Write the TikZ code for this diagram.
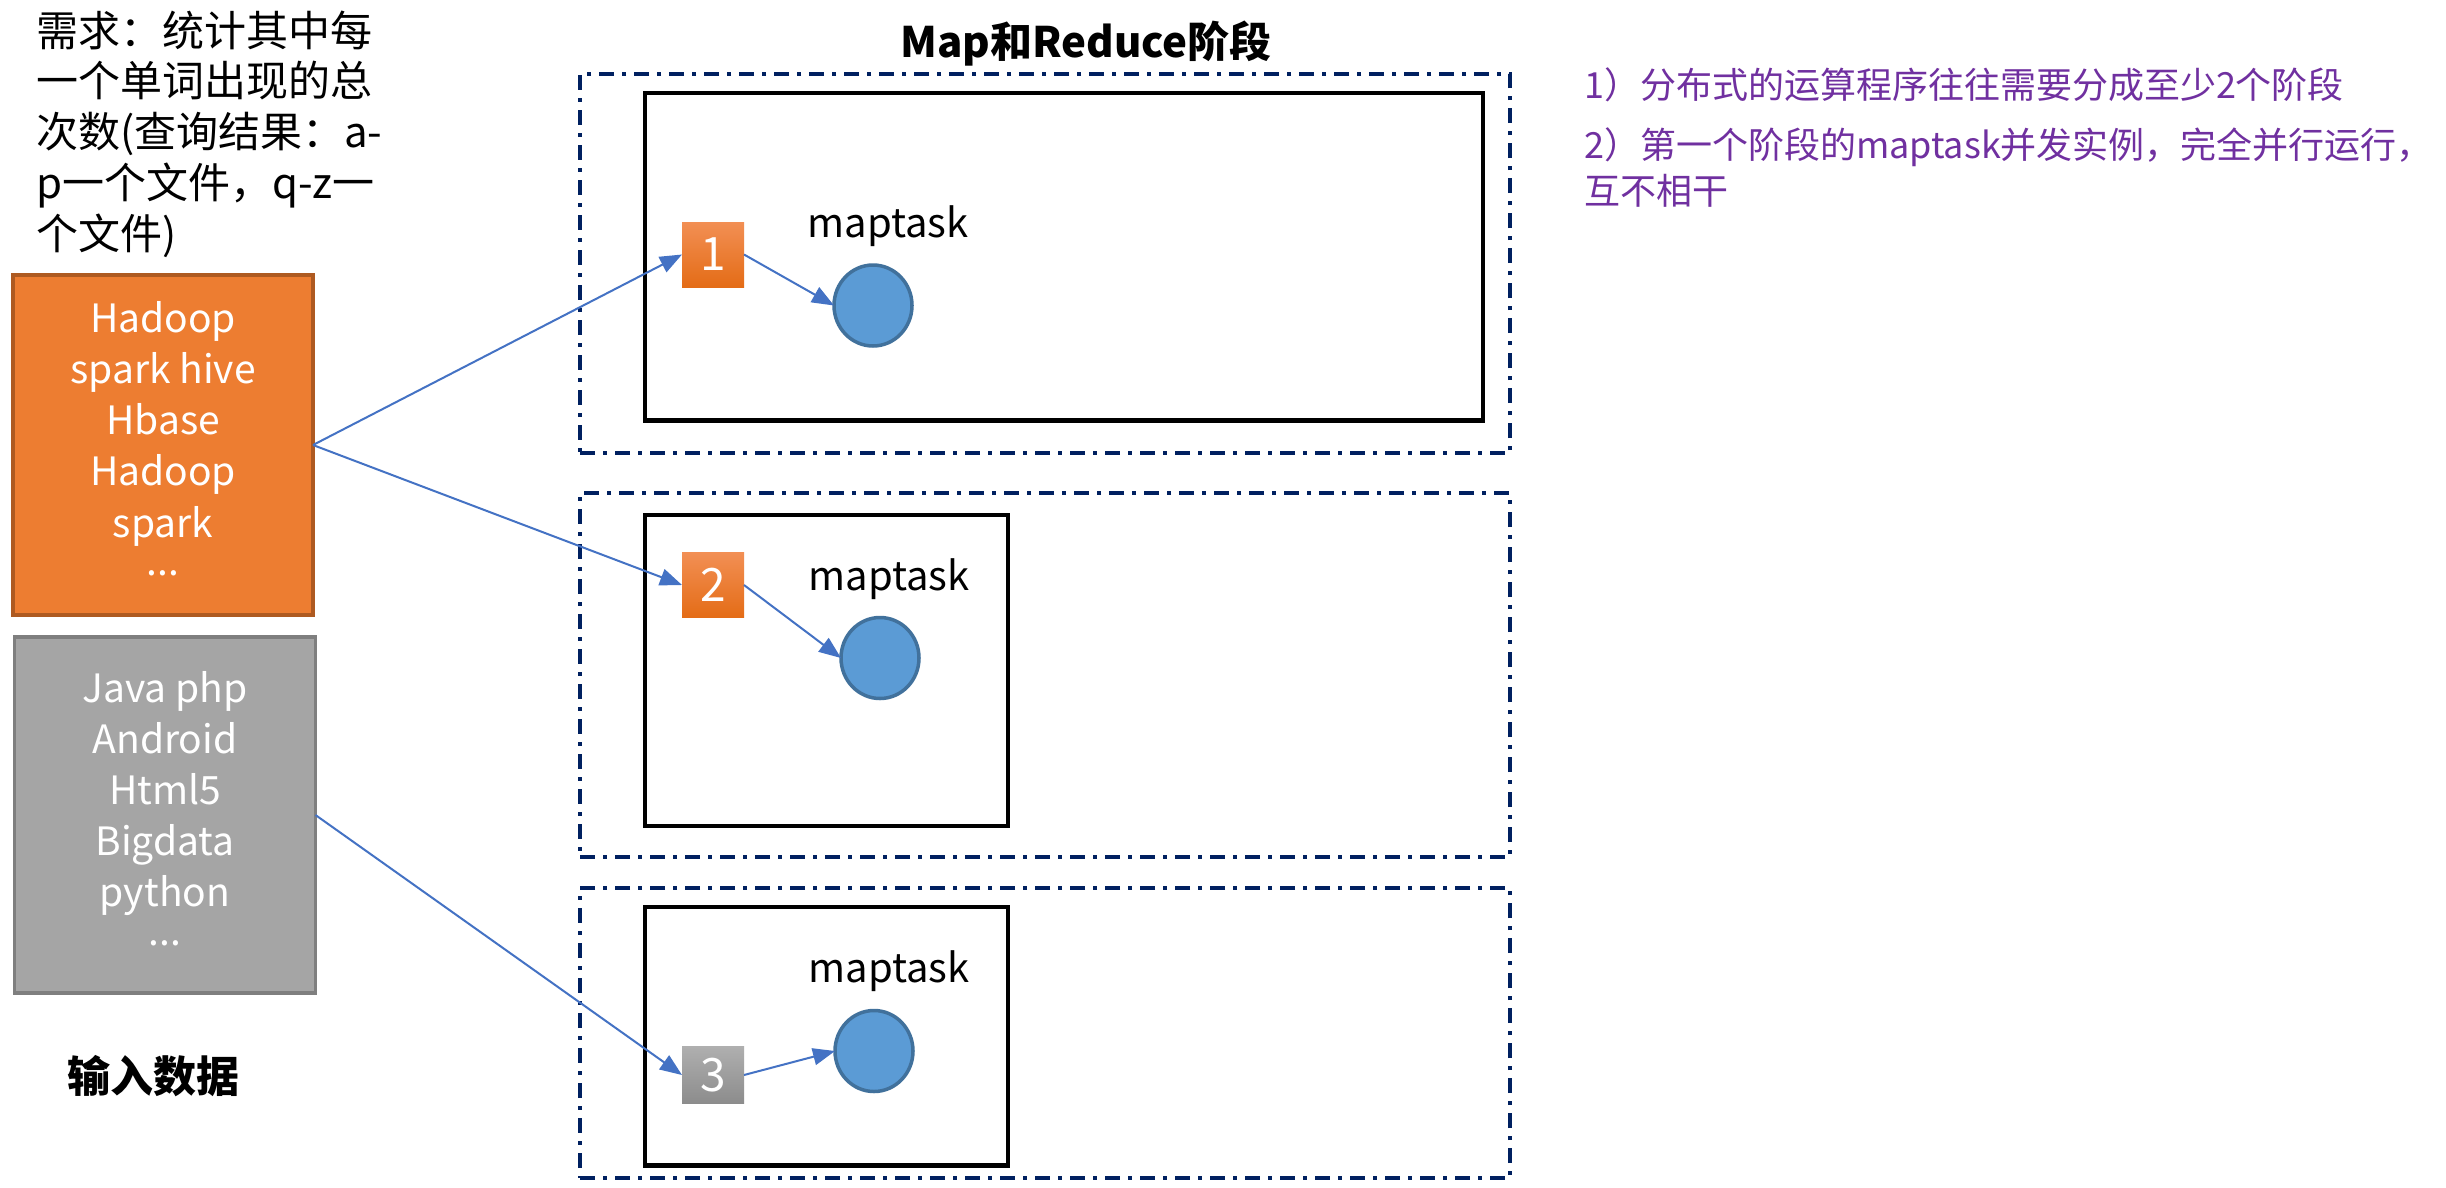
\documentclass[tikz,border=0pt]{standalone}
\usepackage{fontspec}
\setmainfont{Noto Sans CJK SC}
\usetikzlibrary{arrows.meta,shapes.geometric}

\definecolor{orangeF}{RGB}{237,125,49}
\definecolor{orangeD}{RGB}{174,90,33}
\definecolor{grayF}{RGB}{165,165,165}
\definecolor{grayD}{RGB}{127,127,127}
\definecolor{navy}{RGB}{0,32,96}
\definecolor{arrowblue}{RGB}{68,114,196}
\definecolor{circF}{RGB}{91,155,213}
\definecolor{circD}{RGB}{65,113,156}
\definecolor{purp}{RGB}{112,48,160}
\definecolor{sqOtop}{RGB}{242,143,84}
\definecolor{sqObot}{RGB}{228,108,22}
\definecolor{sqGtop}{RGB}{175,175,175}
\definecolor{sqGbot}{RGB}{140,140,140}

\begin{document}
\begin{tikzpicture}[x=1pt,y=-1pt,
  every node/.style={inner sep=0pt, outer sep=0pt},
  req/.style={anchor=base west, font=\fontsize{42}{51}\selectfont},
  inbox/.style={anchor=base, text=white, font=\fontsize{39}{51}\selectfont},
  phase/.style={draw=navy, line width=4pt, dash pattern=on 15pt off 8pt on 4pt off 8pt},
  taskbox/.style={draw=black, line width=4.5pt},
  sqbase/.style={minimum width=62pt, text=white, font=\fontsize{46}{50}\selectfont},
  sqorange/.style={sqbase, top color=sqOtop, bottom color=sqObot, minimum height=65pt},
  sqgray/.style={sqbase, top color=sqGtop, bottom color=sqGbot, minimum height=57pt},
  mtask/.style={ellipse, fill=circF, draw=circD, line width=3.5pt, minimum width=78pt, minimum height=81pt},
  mlabel/.style={anchor=base, font=\fontsize{40}{48}\selectfont},
  link/.style={draw=arrowblue, line width=2pt, -{Triangle[length=22pt,width=17pt]}},
  note/.style={anchor=base west, text=purp, font=\fontsize{36}{45}\selectfont},
  heading/.style={anchor=base, font=\fontsize{42}{50}\selectfont\bfseries}]

\fill[white] (0,0) rectangle (2446,1187);
\useasboundingbox (0,0) rectangle (2446,1187);

% requirement text
\node[req] (q1) at (36,46) {需求：统计其中每};
\node[req] (q2) at (36,96.75) {一个单词出现的总};
\node[req] (q3) at (36,147.5) {次数(查询结果：a-};
\node[req] (q4) at (36,198.25) {p一个文件，q-z一};
\node[req] (q5) at (36,249) {个文件)};

% stage containers
\node[phase, minimum width=930pt, minimum height=379pt] (stage1) at (1045,263.5) {};
\node[phase, minimum width=930pt, minimum height=364pt] (stage2) at (1045,675) {};
\node[phase, minimum width=930pt, minimum height=290pt] (stage3) at (1045,1033) {};

\node[taskbox, minimum width=838pt, minimum height=327.5pt] (task1) at (1064,256.75) {};
\node[taskbox, minimum width=363pt, minimum height=311pt] (task2) at (826.5,670.5) {};
\node[taskbox, minimum width=363pt, minimum height=258.5pt] (task3) at (826.5,1036.25) {};

\node[heading] (title) at (1086,57) {Map和Reduce阶段};

% input files
\node[draw=orangeD, fill=orangeF, line width=3.5pt, minimum width=300pt, minimum height=340pt] (orangebox) at (163,445) {};
\node[draw=grayD, fill=grayF, line width=3.5pt, minimum width=301pt, minimum height=356pt] (graybox) at (165,815) {};

\foreach \t [count=\i] in {Hadoop, spark hive, Hbase, Hadoop, spark}
  \node[inbox] (o\i) at (163,{332+51.25*(\i-1)}) {\t};
\node[inbox] (o6) at (163,575) {...};

\foreach \t [count=\i] in {Java php, Android, Html5, Bigdata, python}
  \node[inbox] (g\i) at (165,{702.5+51*(\i-1)}) {\t};
\node[inbox] (g6) at (165,945) {...};

\node[heading, font=\fontsize{43}{50}\selectfont\bfseries] (inputlabel) at (153,1092) {输入数据};

% splits
\node[sqorange] (sq1) at (713,254.5) {1};
\node[sqorange] (sq2) at (713,585) {2};
\node[sqgray] (sq3) at (713,1075) {3};

% map tasks
\node[mtask] (c1) at (873,305.5) {};
\node[mtask] (c2) at (880,658) {};
\node[mtask] (c3) at (874,1051) {};

\node[mlabel] (m1) at (888,237) {maptask};
\node[mlabel] (m2) at (889,590.5) {maptask};
\node[mlabel] (m3) at (889,982) {maptask};

% notes
\node[note] (n1) at (1584,98) {1）分布式的运算程序往往需要分成至少2个阶段};
\node[note] (n2) at (1584,158) {2）第一个阶段的maptask并发实例，完全并行运行，};
\node[note] (n3) at (1584,204) {互不相干};

% connectors
\draw[link] (orangebox.east) -- (sq1.west);
\draw[link] (orangebox.east) -- (sq2.west);
\draw[link] (graybox.east) -- (sq3.west);
\draw[link] (sq1.east) -- (c1.west);
\draw[link] (sq2.east) -- (c2.west);
\draw[link] (sq3.east) -- (c3.west);
\end{tikzpicture}
\end{document}
